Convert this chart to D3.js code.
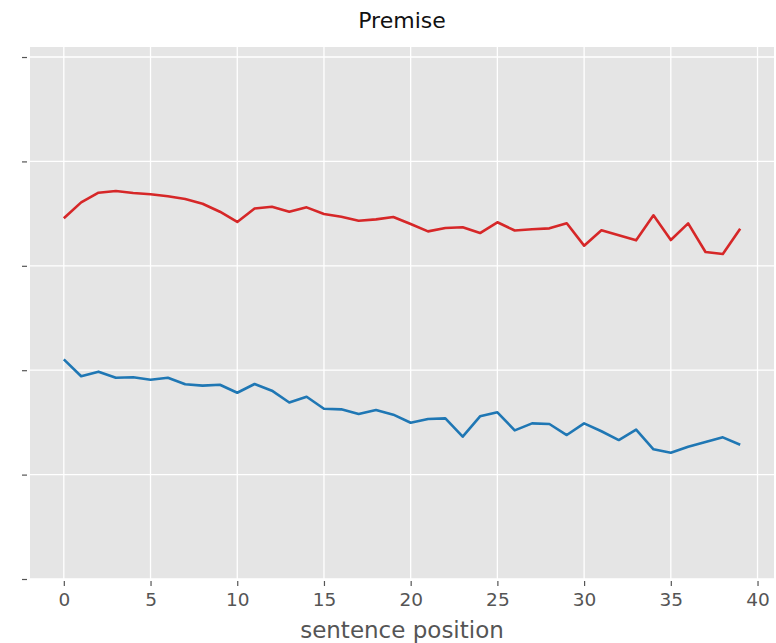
<!DOCTYPE html>
<html>
<head>
<meta charset="utf-8">
<script src="https://cdn.jsdelivr.net/npm/d3@7"></script>
<style>
  html, body { margin: 0; padding: 0; background: #fff; }
  svg { display: block; font-family: "DejaVu Sans", sans-serif; }
</style>
</head>
<body>
<svg id="chart" width="776" height="643"></svg>
<script>
// Sentence positions 0..39
const positions = d3.range(40);

// Upper series (red)
const redSeries = [
  3.455, 3.608, 3.700, 3.716, 3.697, 3.685, 3.666, 3.640, 3.595, 3.518,
  3.420, 3.549, 3.566, 3.518, 3.560, 3.496, 3.470, 3.432, 3.445, 3.467,
  3.400, 3.330, 3.362, 3.369, 3.314, 3.417, 3.338, 3.350, 3.359, 3.407,
  3.193, 3.340, 3.292, 3.244, 3.484, 3.247, 3.407, 3.132, 3.113, 3.355
];

// Lower series (blue)
const blueSeries = [
  2.104, 1.942, 1.986, 1.928, 1.932, 1.909, 1.928, 1.865, 1.852, 1.861,
  1.784, 1.868, 1.804, 1.691, 1.746, 1.631, 1.625, 1.580, 1.619, 1.574,
  1.497, 1.533, 1.539, 1.363, 1.558, 1.597, 1.424, 1.491, 1.485, 1.379,
  1.491, 1.415, 1.331, 1.430, 1.242, 1.210, 1.267, 1.312, 1.357, 1.286
];

const xTicks = [0, 5, 10, 15, 20, 25, 30, 35, 40];
const yTicks = [0, 1, 2, 3, 4, 5];

const title = "Premise";
const xLabel = "sentence position";

const plot = { left: 30, right: 774, top: 47, bottom: 579 };

const x = d3.scaleLinear().domain([-1.95, 40.95]).range([plot.left, plot.right]);
const y = d3.scaleLinear().domain([0, 5.096]).range([plot.bottom, plot.top]);

const svg = d3.select("#chart");

// Panel background
svg.append("rect")
  .attr("x", plot.left).attr("y", plot.top)
  .attr("width", plot.right - plot.left).attr("height", plot.bottom - plot.top)
  .attr("fill", "#e5e5e5");

// Grid
const grid = svg.append("g").attr("stroke", "#ffffff").attr("stroke-width", 1.3);
grid.selectAll("line.v").data(xTicks).join("line")
  .attr("x1", d => x(d)).attr("x2", d => x(d))
  .attr("y1", plot.top).attr("y2", plot.bottom);
grid.selectAll("line.h").data(yTicks).join("line")
  .attr("x1", plot.left).attr("x2", plot.right)
  .attr("y1", d => y(d)).attr("y2", d => y(d));

// X axis
const xAxis = d3.axisBottom(x).tickValues(xTicks).tickSize(5).tickPadding(7).tickFormat(d3.format("d"));
const gx = svg.append("g").attr("transform", `translate(0,${plot.bottom + 2})`).call(xAxis);
gx.select(".domain").remove();
gx.selectAll(".tick line").attr("stroke", "#555").attr("stroke-width", 1.2);
gx.selectAll(".tick text").attr("fill", "#555").attr("font-size", 18.5)
  .attr("font-family", "DejaVu Sans, sans-serif");

// Y axis (ticks only, no labels)
const yAxis = d3.axisLeft(y).tickValues(yTicks).tickSize(5).tickFormat("");
const gy = svg.append("g").attr("transform", `translate(${plot.left - 3},0)`).call(yAxis);
gy.select(".domain").remove();
gy.selectAll(".tick line").attr("stroke", "#555").attr("stroke-width", 1.2);

// Lines
const line = d3.line().x((d, i) => x(positions[i])).y(d => y(d));
svg.append("path").datum(redSeries)
  .attr("d", line).attr("fill", "none")
  .attr("stroke", "#d62728").attr("stroke-width", 2.6).attr("stroke-linejoin", "round");
svg.append("path").datum(blueSeries)
  .attr("d", line).attr("fill", "none")
  .attr("stroke", "#1f77b4").attr("stroke-width", 2.6).attr("stroke-linejoin", "round");

// Title and axis label
svg.append("text")
  .attr("x", (plot.left + plot.right) / 2).attr("y", 28)
  .attr("text-anchor", "middle").attr("font-size", 22).attr("fill", "#111")
  .text(title);
svg.append("text")
  .attr("x", (plot.left + plot.right) / 2).attr("y", 638)
  .attr("text-anchor", "middle").attr("font-size", 23).attr("fill", "#555")
  .text(xLabel);
</script>
</body>
</html>
